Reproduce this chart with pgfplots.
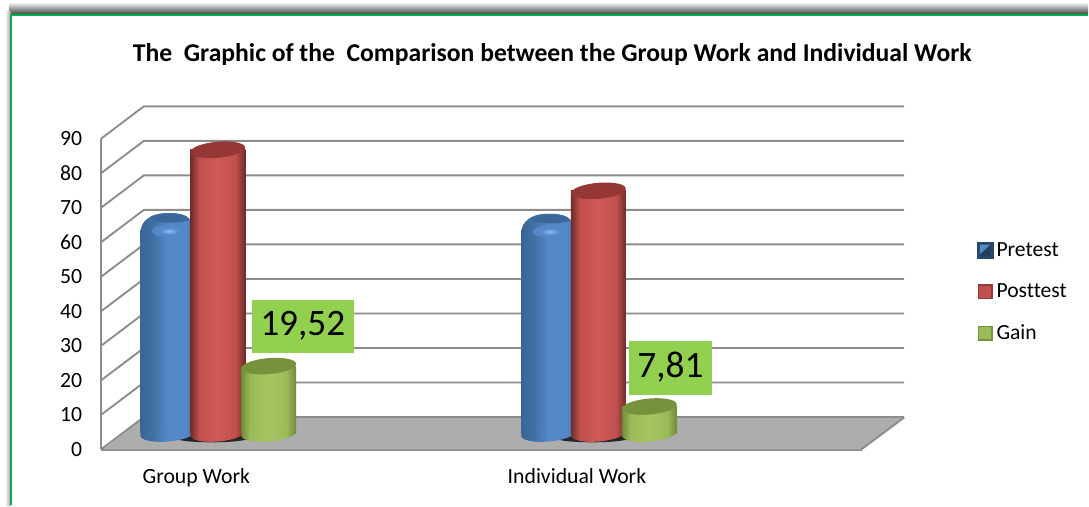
\documentclass[border=0pt]{standalone}
\usepackage{pgfplots}
\pgfplotsset{compat=1.18}
\usepackage{fontspec}
\setmainfont{Carlito}[Ligatures=NoCommon]
\definecolor{gridg}{HTML}{8C8C8C}
\definecolor{floorg}{HTML}{ADADAD}
\definecolor{frameg}{HTML}{00B050}
\definecolor{boxg}{HTML}{92D050}
\definecolor{bA}{HTML}{3A6696}\definecolor{bB}{HTML}{5588C8}\definecolor{bC}{HTML}{3F6FA3}
\definecolor{rA}{HTML}{6E2B29}\definecolor{rB}{HTML}{C0504D}\definecolor{rC}{HTML}{CF5A56}
\definecolor{gA}{HTML}{6F8A3A}\definecolor{gB}{HTML}{9BBB59}\definecolor{gC}{HTML}{A6C663}
\definecolor{rCap}{HTML}{953735}\definecolor{gCap}{HTML}{76923C}\definecolor{bCap}{HTML}{3A6699}\definecolor{bHi}{HTML}{8CBCF5}
\pgfdeclarehorizontalshading{bluecyl}{100bp}{color(0bp)=(bA);color(25bp)=(bA);color(36bp)=(bC);color(50bp)=(bB);color(66bp)=(bB);color(78bp)=(bC);color(100bp)=(bA)}
\pgfdeclarehorizontalshading{redcyl}{100bp}{color(0bp)=(rA);color(25bp)=(rA);color(33bp)=(rB);color(50bp)=(rC);color(66bp)=(rB);color(75bp)=(rA);color(100bp)=(rA)}
\pgfdeclarehorizontalshading{greencyl}{100bp}{color(0bp)=(gA);color(25bp)=(gA);color(33bp)=(gB);color(50bp)=(gC);color(66bp)=(gB);color(75bp)=(gA);color(100bp)=(gA)}
\pgfdeclareradialshading{bluehi}{\pgfpointorigin}{color(0bp)=(bHi);color(14bp)=(bB);color(25bp)=(bB);color(50bp)=(bB)}
\pgfdeclareradialshading{bluecap}{\pgfpointorigin}{color(0bp)=(bCap);color(14bp)=(bCap);color(25bp)=(bC);color(50bp)=(bC)}
\newcommand{\cylell}[2]{\pgfpathellipse{\pgfpoint{#1}{#2}}{\pgfpoint{20.5pt}{1.8pt}}{\pgfpoint{-0.5pt}{6pt}}}
\pgfdeclareplotmark{redtop}{\cylell{0pt}{0pt}\pgfsetfillcolor{rCap}\pgfusepathqfill}
\pgfdeclareplotmark{greentop}{\cylell{0pt}{0pt}\pgfsetfillcolor{gCap}\pgfusepathqfill}
\pgfdeclareplotmark{redbase}{\cylell{0pt}{0pt}\pgfshadepath{redcyl}{0}\pgfusepath{discard}}
\pgfdeclareplotmark{greenbase}{\cylell{0pt}{0pt}\pgfshadepath{greencyl}{0}\pgfusepath{discard}}
\pgfdeclareplotmark{bluebase}{\cylell{0pt}{0pt}\pgfshadepath{bluecyl}{0}\pgfusepath{discard}}
\pgfdeclareplotmark{bluetop}{%
  \pgfpathmoveto{\pgfpoint{-20.6pt}{-12pt}}
  \pgfpathcurveto{\pgfpoint{-20.6pt}{-2pt}}{\pgfpoint{-12pt}{3pt}}{\pgfpoint{1pt}{3pt}}
  \pgfpathcurveto{\pgfpoint{13pt}{3pt}}{\pgfpoint{20.6pt}{-2pt}}{\pgfpoint{20.6pt}{-12pt}}
  \pgfpathclose
  \pgfshadepath{bluecyl}{0}\pgfusepath{discard}
  \pgfpathmoveto{\pgfpoint{-16pt}{-2pt}}
  \pgfpathcurveto{\pgfpoint{-12pt}{2pt}}{\pgfpoint{-6pt}{3pt}}{\pgfpoint{1pt}{3pt}}
  \pgfpathcurveto{\pgfpoint{8pt}{3pt}}{\pgfpoint{14pt}{2pt}}{\pgfpoint{17pt}{-2pt}}
  \pgfpathcurveto{\pgfpoint{12pt}{-5pt}}{\pgfpoint{-9pt}{-5pt}}{\pgfpoint{-16pt}{-2pt}}
  \pgfpathclose
  \pgfshadepath{bluecap}{0}\pgfusepath{discard}
  \pgfpathellipse{\pgfpoint{1pt}{-10.5pt}}{\pgfpoint{13pt}{0pt}}{\pgfpoint{0pt}{4.5pt}}
  \pgfshadepath{bluehi}{0}\pgfusepath{discard}}
\pgfdeclareplotmark{baseshadow}{\pgfpathellipse{\pgfpoint{-4.5pt}{-3.6pt}}{\pgfpoint{27pt}{0pt}}{\pgfpoint{0pt}{3pt}}\pgfsetfillcolor{black!85}\pgfusepathqfill}
% x, value, shift, colour name, cut of the body below the value
\newcommand{\cyl}[5]{%
  \addplot[forget plot,only marks,mark=#4base,mark options={xshift=#3}] coordinates {(#1,0)};
  \addplot[forget plot,ybar,draw=none,shading=#4cyl,shading angle=0,bar width=41.25pt,bar shift=#3,y filter/.expression={y-#5}] coordinates {(#1,#2)};
  \addplot[forget plot,only marks,mark=#4top,mark options={xshift=#3}] coordinates {(#1,#2)};
}
\newcommand{\Pm}[2]{(axis cs:{(#1-196.5)/381},{(450-(#2))/3.456})}
\newcommand{\Pb}[2]{(axis cs:{(#1-218)/381},{(434-(#2))/3.456})}
\pgfplotsset{cylaxis/.style={
  scale only axis,width=571.125pt,height=233.25pt,
  xshift=16.125pt,yshift=12pt,
  xmin=-0.25066,xmax=1.748,ymin=0,ymax=90,clip=false,hide axis}}
\begin{document}
\begin{tikzpicture}
\begin{axis}[
  scale only axis,width=571.125pt,height=233.25pt,
  xmin=-0.25066,xmax=1.748,ymin=0,ymax=90,clip=false,
  axis lines*=left,axis line style={-,draw=gridg,line width=1.8pt},
  xtick={0,1},xticklabels={Group Work,Individual Work},
  ytick={0,10,...,90},tick style={draw=none},
  /pgf/number format/assume math mode=true,
  xticklabel style={font=\fontsize{16.3}{18}\selectfont,yshift=-11pt},
  yticklabel style={font=\fontsize{16.3}{18}\selectfont,xshift=-10.5pt},
  title={\textbf{The\ \ Graphic of the\ \ Comparison between the Group Work and Individual Work}},
  title style={font=\fontsize{19.25}{22}\selectfont,at={(axis cs:0.935,110)},anchor=base},
  legend cell align=left,
  legend style={draw=none,fill=none,at={(axis description cs:1.1506,0.675)},anchor=north west,
    font=\fontsize{16.2}{18}\selectfont,row sep=15pt,
    /tikz/every even column/.append style={column sep=2pt},inner sep=0pt},
]
\path \Pm{0}{0} -- \Pm{1089}{506};
\shade[top color=white,bottom color=black!72] \Pm{9}{2} rectangle \Pm{1089}{14};
\shade[left color=white,right color=black!40] \Pm{5}{12} rectangle \Pm{11}{506};
\draw[frameg,line width=1.5pt] \Pm{11.5}{506} -- \Pm{11.5}{15} -- \Pm{1089}{15};
\fill[floorg] \Pm{103}{450} -- \Pm{862}{450} -- \Pm{905}{418} -- \Pm{144}{418} -- cycle;
\pgfplotsinvokeforeach{0,10,...,90}{
  \draw[gridg,line width=1.4pt] \Pm{101}{450-#1*3.456} -- \Pm{144}{417.5-#1*3.456} -- \Pm{905}{417.5-#1*3.456};
}
\draw[gridg,line width=1.4pt] \Pm{862}{450} -- \Pm{905}{418};
\addlegendimage{legend image code/.code={
  \fill[draw=none,bA!70!black] (0pt,-6.5pt) rectangle (13pt,6.5pt);
  \fill[draw=none,bB] (2.5pt,-2.5pt) -- (10.5pt,4.5pt) -- (2.5pt,4.5pt) -- cycle;
  \fill[draw=none,bCap!60!black] (2.5pt,-4pt) -- (10.5pt,-4pt) -- (10.5pt,4.5pt) -- cycle;}}
\addlegendentry{Pretest}
\addlegendimage{legend image code/.code={
  \path[draw=none,fill=none] (0pt,-5pt) rectangle (13pt,5pt);
  \fill[rB,draw=rCap,line width=1pt] (1.5pt,-5pt) rectangle (11.5pt,5pt);}}
\addlegendentry{Posttest}
\addlegendimage{legend image code/.code={
  \path[draw=none,fill=none] (0pt,-5pt) rectangle (13pt,5pt);
  \fill[gB,draw=gCap,line width=1pt] (1.5pt,-5pt) rectangle (11.5pt,5pt);}}
\addlegendentry{Gain}
\end{axis}
\begin{axis}[cylaxis]
\addplot[forget plot,only marks,mark=baseshadow] coordinates {(0,0)};
\addplot[forget plot,only marks,mark=baseshadow] coordinates {(1,0)};
\end{axis}
\begin{axis}[cylaxis]
\cyl{0}{62.7}{-37.5pt}{blue}{4.6}
\cyl{1}{62.5}{-37.5pt}{blue}{4.6}
\end{axis}
\begin{axis}[cylaxis]
\cyl{0}{82.2}{0pt}{red}{0}
\cyl{1}{70.3}{0pt}{red}{0}
\end{axis}
\begin{axis}[cylaxis]
\cyl{0}{19.52}{38.25pt}{green}{0}
\cyl{1}{7.81}{38.25pt}{green}{0}
\node[fill=boxg,minimum width=76.5pt,minimum height=39.75pt,inner sep=0pt,font=\fontsize{28}{30}\selectfont] at \Pb{303}{326.5} {19,52};
\node[fill=boxg,minimum width=62pt,minimum height=40.5pt,inner sep=0pt,font=\fontsize{28}{30}\selectfont] at \Pb{671}{368} {7,81};
\end{axis}
\end{tikzpicture}
\end{document}
